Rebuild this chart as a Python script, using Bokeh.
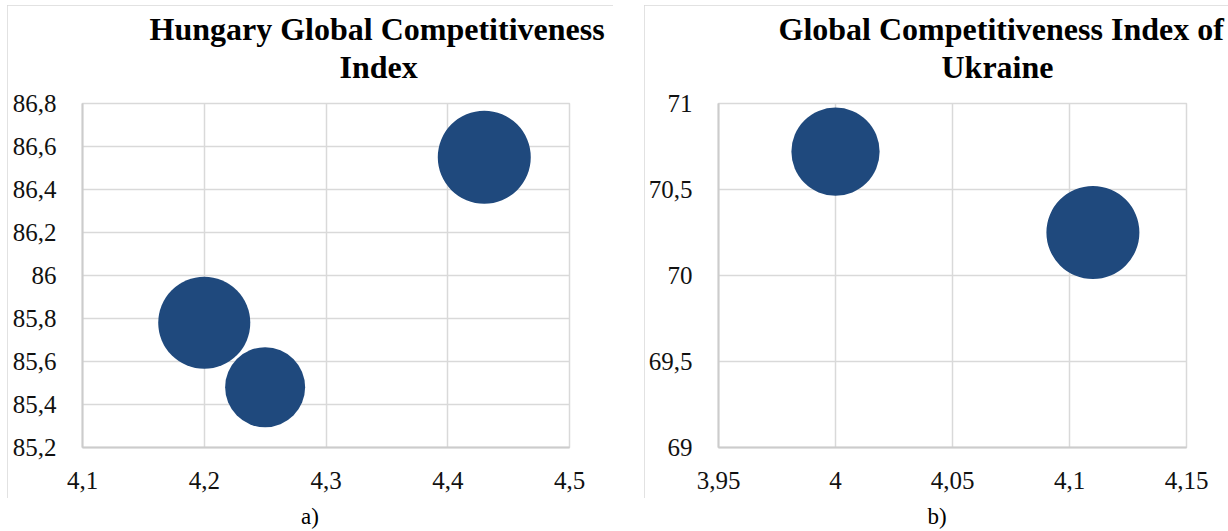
from bokeh.plotting import figure
from bokeh.models import Range1d, FixedTicker, CustomJSTickFormatter, Title, Div, ColumnDataSource
from bokeh.layouts import row, column
from bokeh.embed import file_html
from bokeh.resources import INLINE
import math

# ---- data ----
hu_gci = [4.20, 4.25, 4.43]
hu_val = [85.78, 85.48, 86.55]
hu_bubble = [0.98, 0.74, 1.00]
hu_xticks = [4.1, 4.2, 4.3, 4.4, 4.5]
hu_yticks = [85.2, 85.4, 85.6, 85.8, 86.0, 86.2, 86.4, 86.6, 86.8]

ua_gci = [4.00, 4.11]
ua_val = [70.72, 70.25]
ua_bubble = [0.90, 1.00]
ua_xticks = [3.95, 4.0, 4.05, 4.1, 4.15]
ua_yticks = [69.0, 69.5, 70.0, 70.5, 71.0]

hu_title = ["Hungary Global Competitiveness", "Index"]
ua_title = ["Global Competitiveness Index of", "Ukraine"]
captions = ["a)", "b)"]

# ---- style ----
SERIF = "'Liberation Serif', 'Times New Roman', serif"
BUBBLE = "#1F497D"
GRID = "#d9d9d9"
MAX_D = 93


def panel(xs, ys, bub, xticks, yticks, title_lines, width, left, right, offsets):
    p = figure(width=width, height=493, output_backend="svg", toolbar_location=None,
               x_range=Range1d(xticks[0], xticks[-1]), y_range=Range1d(yticks[0], yticks[-1]),
               min_border_left=left, min_border_right=right, min_border_top=98, min_border_bottom=51,
               background_fill_color="white", border_fill_color="white")
    p.outline_line_color = GRID
    p.outline_line_width = 1.5
    p.xaxis.ticker = FixedTicker(ticks=xticks)
    p.yaxis.ticker = FixedTicker(ticks=yticks)
    p.axis.formatter = CustomJSTickFormatter(code="return String(tick).replace('.', ',');")
    p.axis.major_tick_line_color = None
    p.axis.minor_tick_line_color = None
    p.axis.axis_line_color = "#cccccc"
    p.axis.axis_line_width = 2
    p.axis.major_label_text_font = SERIF
    p.axis.major_label_text_font_size = "25px"
    p.axis.major_label_text_color = "#111111"
    p.xaxis.major_label_standoff = 18
    p.yaxis.major_label_standoff = 20
    p.grid.grid_line_color = GRID
    p.grid.grid_line_width = 1.5
    m = max(bub)
    src = ColumnDataSource(dict(x=xs, y=ys, d=[MAX_D * math.sqrt(b / m) for b in bub]))
    p.scatter("x", "y", size="d", source=src, marker="circle", fill_color=BUBBLE, line_color=None)
    # second line first (closest to the frame), then first line above it
    for txt, off, sto in ((title_lines[1], offsets[1], 38), (title_lines[0], offsets[0], -38)):
        p.add_layout(Title(text=txt, align="left", offset=off, standoff=sto,
                           text_font=SERIF, text_font_style="bold", text_font_size="32px",
                           text_color="#000000"), "above")
    return p


p1 = panel(hu_gci, hu_val, hu_bubble, hu_xticks, hu_yticks, hu_title, 606, 75, 44, (67, 257))
p2 = panel(ua_gci, ua_val, ua_bubble, ua_xticks, ua_yticks, ua_title, 586, 74, 44, (60, 223))

p1.margin = (5, 0, 0, 7)
p2.margin = (5, 0, 0, 31)
p1.styles = {"outline": "2px solid #d9d9d9", "outline-offset": "-2px"}
p2.styles = {"outline": "2px solid #d9d9d9", "outline-offset": "-2px", "clip-path": "inset(0 2px 0 0)"}


def cap(t, w):
    return ('<div style="width: %dpx; font-family: \'Liberation Serif\', serif; font-size: 23px; '
            'text-align: center; color: #000; line-height: 25px;">%s</div>' % (w, t))


la = Div(text=cap(captions[0], 606), width=606, height=25, margin=(6, 0, 0, 7))
lb = Div(text=cap(captions[1], 586), width=584, height=25, margin=(6, 0, 0, 31))

layout = column(row(p1, p2), row(la, lb))
open("out.html", "w").write(file_html(layout, INLINE))
